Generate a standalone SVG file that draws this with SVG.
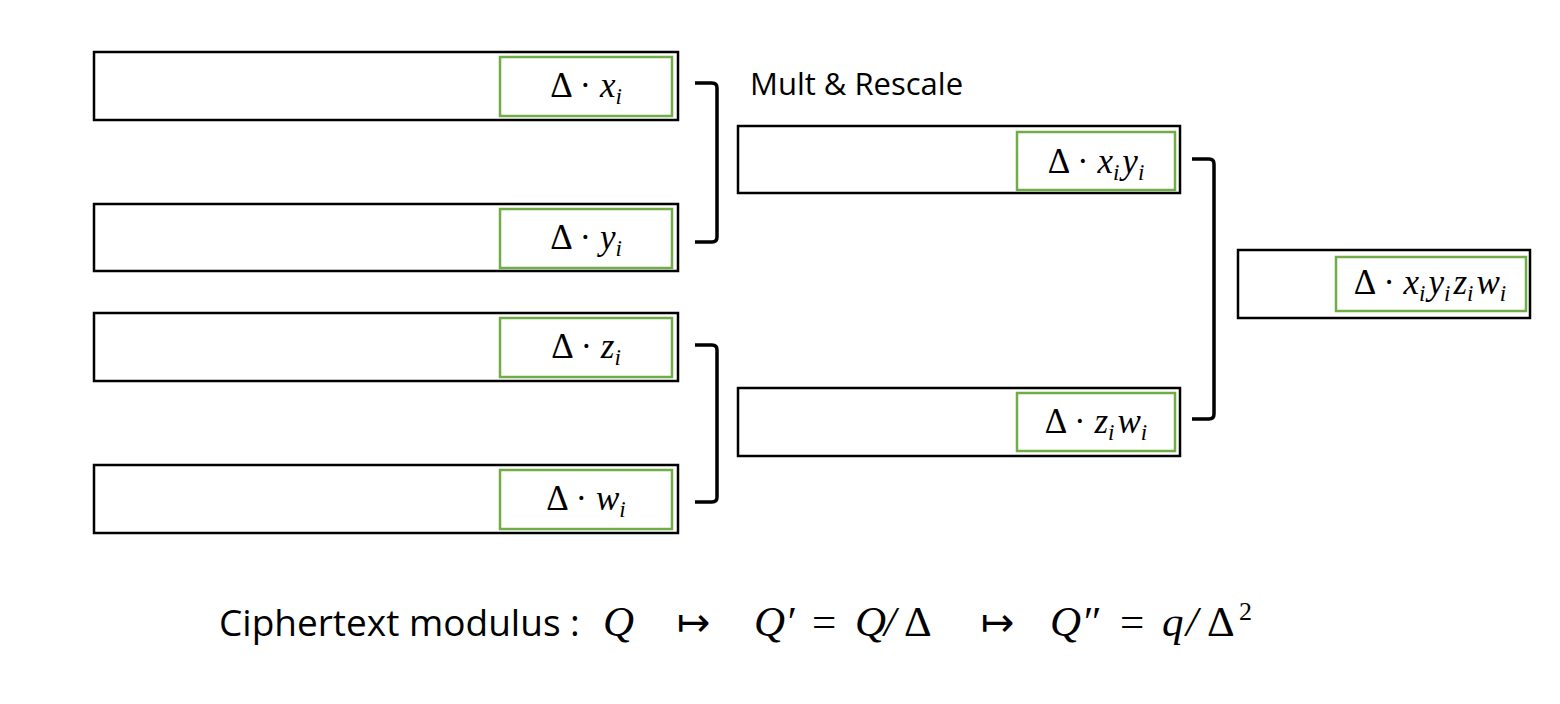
<svg xmlns="http://www.w3.org/2000/svg" width="1560" height="704" viewBox="0 0 1560 704">
<style>
.box{fill:#fff;stroke:#000;stroke-width:2.5}
.slot{fill:#fff;stroke:#70AD47;stroke-width:2.5}
.lbl{font-family:"Liberation Serif","DejaVu Serif",serif;font-size:35px;fill:#000;text-anchor:middle}
.v{font-style:italic}
.s{font-style:italic;font-size:23px}
.br{fill:none;stroke:#000;stroke-width:3.5;stroke-linejoin:round}
.sans{font-family:"Open Sans","Liberation Sans",sans-serif;fill:#000}
.math{font-family:"Liberation Serif","DejaVu Serif",serif;font-size:43px;fill:#000}
.arr{font-family:"DejaVu Sans",sans-serif;font-size:40px}
</style>
<rect width="1560" height="704" fill="#fff"/>

<g id="ct-x">
<rect class="box" x="94" y="52" width="584" height="68"/>
<rect class="slot" x="500" y="57" width="172" height="59"/>
<text class="lbl" x="586" y="97">Δ · <tspan class="v">x</tspan><tspan class="s" dy="7">i</tspan></text>
</g>
<g id="ct-y">
<rect class="box" x="94" y="204" width="584" height="67"/>
<rect class="slot" x="500" y="209" width="172" height="59"/>
<text class="lbl" x="586" y="249">Δ · <tspan class="v">y</tspan><tspan class="s" dy="7">i</tspan></text>
</g>
<g id="ct-z">
<rect class="box" x="94" y="313" width="584" height="68"/>
<rect class="slot" x="500" y="318" width="172" height="59"/>
<text class="lbl" x="586" y="358">Δ · <tspan class="v">z</tspan><tspan class="s" dy="7">i</tspan></text>
</g>
<g id="ct-w">
<rect class="box" x="94" y="465" width="584" height="68"/>
<rect class="slot" x="500" y="470" width="172" height="59"/>
<text class="lbl" x="586" y="510">Δ · <tspan class="v">w</tspan><tspan class="s" dy="7">i</tspan></text>
</g>
<g id="ct-xy">
<rect class="box" x="738" y="126" width="442" height="67"/>
<rect class="slot" x="1017" y="132" width="158" height="58"/>
<text class="lbl" x="1096" y="173">Δ · <tspan class="v">x</tspan><tspan class="s" dy="7">i</tspan><tspan class="v" dx="3" dy="-7">y</tspan><tspan class="s" dy="7">i</tspan></text>
</g>
<g id="ct-zw">
<rect class="box" x="738" y="388" width="442" height="68"/>
<rect class="slot" x="1017" y="393" width="158" height="58"/>
<text class="lbl" x="1096" y="433">Δ · <tspan class="v">z</tspan><tspan class="s" dy="7">i</tspan><tspan class="v" dx="3" dy="-7">w</tspan><tspan class="s" dy="7">i</tspan></text>
</g>
<g id="ct-xyzw">
<rect class="box" x="1238" y="250" width="292" height="68"/>
<rect class="slot" x="1336" y="257" width="190" height="54"/>
<text class="lbl" x="1430" y="294">Δ · <tspan class="v">x</tspan><tspan class="s" dy="7">i</tspan><tspan class="v" dx="3" dy="-7">y</tspan><tspan class="s" dy="7">i</tspan><tspan class="v" dx="3" dy="-7">z</tspan><tspan class="s" dy="7">i</tspan><tspan class="v" dx="3" dy="-7">w</tspan><tspan class="s" dy="7">i</tspan></text>
</g>

<g id="connectors">
<path class="br" d="M695,83 H712 Q717,83 717,88 V237 Q717,242 712,242 H695"/>
<path class="br" d="M695,345 H712 Q717,345 717,350 V497 Q717,502 712,502 H695"/>
<path class="br" d="M1192,159 H1209 Q1214,159 1214,164 V414 Q1214,419 1209,419 H1192"/>
</g>

<g id="op-label">
<text class="sans" x="750" y="95" font-size="31">Mult &amp; Rescale</text>
</g>

<g id="modulus">
<text class="math" x="219" y="636"><tspan class="sans" font-size="37">Ciphertext modulus :</tspan><tspan class="v" x="603">Q</tspan><tspan class="arr" x="677">↦</tspan><tspan class="v" x="754">Q′</tspan><tspan x="812">=</tspan><tspan class="v" x="855">Q</tspan><tspan class="v" x="884">/</tspan><tspan x="904">Δ</tspan><tspan class="arr" x="981">↦</tspan><tspan class="v" x="1050">Q″</tspan><tspan x="1120">=</tspan><tspan class="v" x="1162">q</tspan><tspan class="v" x="1186">/</tspan><tspan x="1207">Δ</tspan><tspan font-size="26" x="1239" dy="-16">2</tspan></text>
</g>
</svg>
